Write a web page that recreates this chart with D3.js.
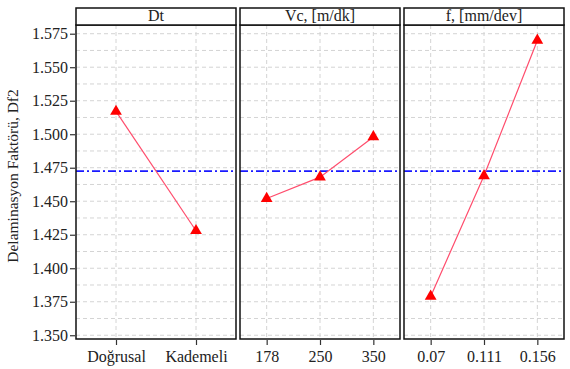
<!DOCTYPE html>
<html>
<head>
<meta charset="utf-8">
<script src="https://cdn.jsdelivr.net/npm/d3@7"></script>
<style>
  body { margin: 0; background: #fff; }
  text { font-family: "Liberation Serif", "DejaVu Serif", serif; fill: #222; }
</style>
</head>
<body>
<div class="chart"></div>
<script>
// main effects plot values
var panelNames = ["Dt", "Vc, [m/dk]", "f, [mm/dev]"];
var dtLevels = ["Doğrusal", "Kademeli"];
var dtMeans = [1.517, 1.428];
var vcLevels = ["178", "250", "350"];
var vcMeans = [1.452, 1.468, 1.498];
var fLevels = ["0.07", "0.111", "0.156"];
var fMeans = [1.379, 1.469, 1.570];
var grandMean = 1.4725;
var yTicks = [1.350, 1.375, 1.400, 1.425, 1.450, 1.475, 1.500, 1.525, 1.550, 1.575];

var panels = [
  {name: panelNames[0], levels: dtLevels, means: dtMeans},
  {name: panelNames[1], levels: vcLevels, means: vcMeans},
  {name: panelNames[2], levels: fLevels, means: fMeans}
];

var margin = {top: 8, right: 6, bottom: 30, left: 76},
    width = 570 - margin.left - margin.right,
    height = 369 - margin.top - margin.bottom;

var stripH = 17, gap = 4;
var panelW = (width - gap * (panels.length - 1)) / panels.length;
var plotH = 314;

var svg = d3.select(".chart").append("svg")
    .attr("width", 570)
    .attr("height", 369)
    .append("g")
    .attr("transform", "translate(" + margin.left + "," + margin.top + ")");

var yScale = d3.scaleLinear()
    .domain([1.3472, 1.5815])
    .range([stripH + plotH, stripH]);

// minor grid values halfway between ticks
var minor = yTicks.map(function(d) { return d + 0.0125; }).filter(function(d) { return yScale(d) > stripH; });

var yAxis = d3.axisLeft(yScale)
    .tickValues(yTicks)
    .tickFormat(d3.format(".3f"))
    .tickSize(5);

svg.append("g")
    .attr("class", "y axis")
    .attr("transform", "translate(-1,0)")
    .call(yAxis)
    .call(function(g) {
      g.select(".domain").remove();
      g.selectAll("line").attr("stroke", "#333").attr("stroke-width", 1.2);
      g.selectAll("text").style("font-size", "16px").attr("fill", "#222").attr("x", -7);
    });

svg.append("text")
    .attr("transform", "translate(" + (-58) + "," + (stripH + plotH / 2 - 6) + ") rotate(-90)")
    .attr("text-anchor", "middle")
    .style("font-size", "15.5px")
    .text("Delaminasyon Faktörü, Df2");

panels.forEach(function(p, i) {
  var g = svg.append("g")
      .attr("transform", "translate(" + (i * (panelW + gap)) + ",0)");

  var xScale = d3.scalePoint()
      .domain(p.levels)
      .range([0, panelW])
      .padding(0.5);

  // grid
  g.selectAll(".hgrid")
    .data(yTicks.concat(minor))
    .enter().append("line")
    .attr("x1", 0).attr("x2", panelW)
    .attr("y1", function(d) { return yScale(d); })
    .attr("y2", function(d) { return yScale(d); })
    .attr("stroke", "#d4d4d4")
    .attr("stroke-dasharray", "4,3");

  g.selectAll(".vgrid")
    .data(p.levels)
    .enter().append("line")
    .attr("x1", function(d) { return xScale(d); })
    .attr("x2", function(d) { return xScale(d); })
    .attr("y1", stripH).attr("y2", stripH + plotH)
    .attr("stroke", "#d4d4d4")
    .attr("stroke-dasharray", "4,3");

  // grand mean
  g.append("line")
    .attr("x1", 0).attr("x2", panelW)
    .attr("y1", yScale(grandMean)).attr("y2", yScale(grandMean))
    .attr("stroke", "#1a1aff")
    .attr("stroke-width", 1.6)
    .attr("stroke-dasharray", "8,3,2,3");

  var pts = p.levels.map(function(l, j) { return {x: l, y: p.means[j]}; });

  g.append("path")
    .datum(pts)
    .attr("fill", "none")
    .attr("stroke", "#ff4d6d")
    .attr("stroke-width", 1.2)
    .attr("d", d3.line()
      .x(function(d) { return xScale(d.x); })
      .y(function(d) { return yScale(d.y); }));

  g.selectAll(".pt")
    .data(pts)
    .enter().append("path")
    .attr("class", "pt")
    .attr("transform", function(d) { return "translate(" + xScale(d.x) + "," + yScale(d.y) + ")"; })
    .attr("d", d3.symbol().type(d3.symbolTriangle).size(60))
    .attr("fill", "#ff0000");

  // panel border
  g.append("rect")
    .attr("x", 0).attr("y", stripH)
    .attr("width", panelW).attr("height", plotH)
    .attr("fill", "none")
    .attr("stroke", "#111")
    .attr("stroke-width", 1.5);

  // strip
  g.append("rect")
    .attr("x", 0).attr("y", 0)
    .attr("width", panelW).attr("height", stripH)
    .attr("fill", "#fff")
    .attr("stroke", "#111")
    .attr("stroke-width", 1.5);

  g.append("text")
    .attr("x", panelW / 2)
    .attr("y", stripH - 4)
    .attr("text-anchor", "middle")
    .style("font-size", "16px")
    .text(p.name);

  // x axis
  var xAxis = d3.axisBottom(xScale).tickSize(5);
  g.append("g")
    .attr("transform", "translate(0," + (stripH + plotH + 1) + ")")
    .call(xAxis)
    .call(function(a) {
      a.select(".domain").remove();
      a.selectAll("line").attr("stroke", "#333").attr("stroke-width", 1.2);
      a.selectAll("text").style("font-size", "16px").attr("fill", "#222").attr("dy", "0.85em");
    });
});
</script>
</body>
</html>
